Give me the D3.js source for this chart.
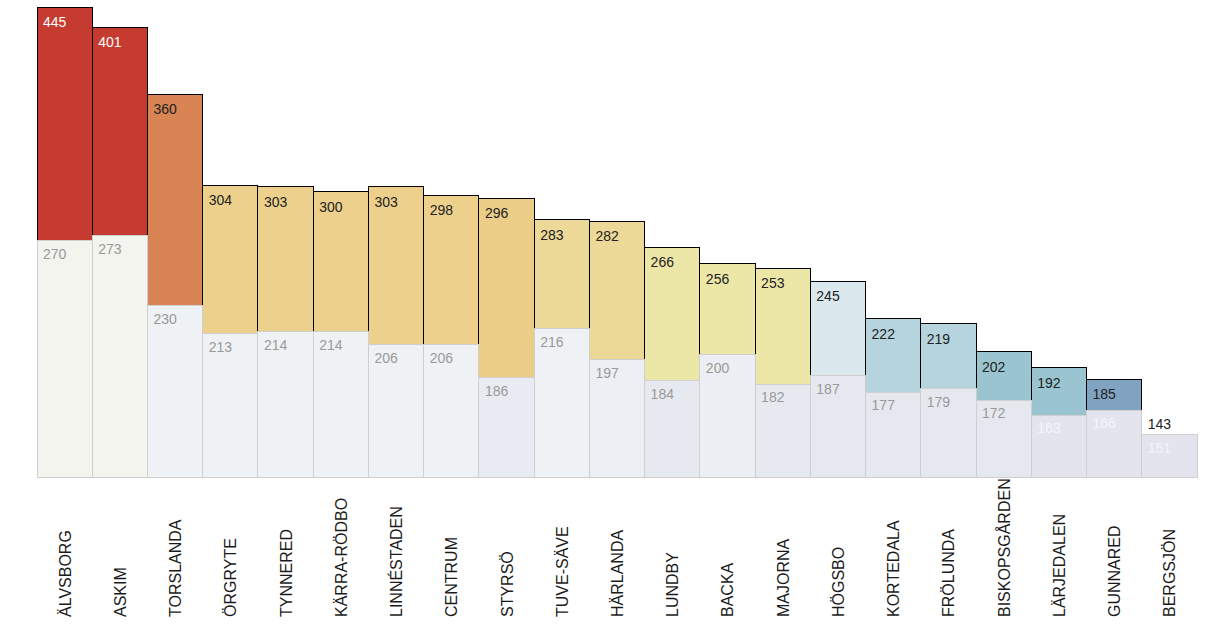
<!DOCTYPE html>
<meta charset="utf-8">
<style>
body{
  margin:0;
  background:#fff;
}
text{
  font-family:"Liberation Sans", Arial, sans-serif;
}
.bar{
  stroke:#000;
  stroke-width:1px;
  shape-rendering:crispEdges;
}
.base{
  stroke:#cfcfcf;
  stroke-width:1px;
  shape-rendering:crispEdges;
}
.val, .cmp{
  font-size:14px;
}
.tick{
  font-size:16px;
  fill:#1a1a1a;
}
</style>
<body>
<script src="https://d3js.org/d3.v7.min.js"></script>
<script>

var districts = ["ÄLVSBORG","ASKIM","TORSLANDA","ÖRGRYTE","TYNNERED","KÄRRA-RÖDBO","LINNÉSTADEN",
  "CENTRUM","STYRSÖ","TUVE-SÄVE","HÄRLANDA","LUNDBY","BACKA","MAJORNA","HÖGSBO","KORTEDALA",
  "FRÖLUNDA","BISKOPSGÅRDEN","LÄRJEDALEN","GUNNARED","BERGSJÖN"];
var values  = [445,401,360,304,303,300,303,298,296,283,282,266,256,253,245,222,219,202,192,185,143];
var compare = [270,273,230,213,214,214,206,206,186,216,197,184,200,182,187,177,179,172,163,166,151];

// fills for the top bars and the pale bars behind
var barColors = ["#c53b2f","#c53b2f","#d98454","#ecd08b","#ecd08b","#ecd08b","#ecd08b","#ecd08b",
  "#ebcd88","#ecd897","#ecd897","#ece6a7","#ece6a7","#ece6a7","#dbe8ed","#b5d4dd","#b5d4dd",
  "#9ac5d0","#9ac5d0","#7fa3c1","#6c8db6"];
var baseColors = ["#f4f4ef","#f4f4ef","#eff2f5","#eff2f5","#eff2f5","#eff2f5","#eff2f5","#eff2f5",
  "#e8ebf1","#eff2f5","#eceff3","#e7e9f0","#ebeef3","#e7e9f0","#e6e8ef","#e6e8ef","#e6e8ef",
  "#e6e8ef","#e3e4ee","#e3e4ee","#e3e4ee"];

var W = 1219, H = 626;
var svg = d3.select("body").append("svg").attr("width", W).attr("height", H);

var x = d3.scaleBand().domain(districts).range([37, 1197]).padding(0);
var y = d3.scaleLinear().domain([125, 413.4]).range([477, 7]).clamp(true);

var rows = districts.map(function(d, i){
  return {name:d, v:values[i], c:compare[i], fill:barColors[i], base:baseColors[i], i:i};
});

// top bars
svg.append("g").selectAll("rect").data(rows).join("rect")
  .attr("class","bar")
  .attr("x", d=>x(d.name))
  .attr("y", d=>y(d.v))
  .attr("width", x.bandwidth())
  .attr("height", d=>y.range()[0]-y(d.v))
  .attr("fill", d=>d.fill);

// pale comparison bars on top
svg.append("g").selectAll("rect").data(rows).join("rect")
  .attr("class","base")
  .attr("x", d=>x(d.name))
  .attr("y", d=>y(d.c))
  .attr("width", x.bandwidth())
  .attr("height", d=>y.range()[0]-y(d.c))
  .attr("fill", d=>d.base);

svg.append("g").selectAll("text").data(rows).join("text")
  .attr("class","val")
  .attr("x", d=>x(d.name)+6)
  .attr("y", d=>(d.v < d.c ? y(d.c)-6 : y(d.v)+20))
  .attr("fill", d=>(d.i < 2 ? "#fff" : "#222"))
  .text(d=>d.v);

svg.append("g").selectAll("text").data(rows).join("text")
  .attr("class","cmp")
  .attr("x", d=>x(d.name)+6)
  .attr("y", d=>y(d.c)+18)
  .attr("fill", d=>(d.i >= 18 ? "#f4f5f9" : "#999"))
  .text(d=>d.c);

// district labels, rotated
svg.append("g").selectAll("text").data(rows).join("text")
  .attr("class","tick")
  .attr("transform", d=>"translate(" + (x(d.name)+x.bandwidth()/2+6) + ",617) rotate(-90)")
  .text(d=>d.name);

</script>
</body>
</html>
